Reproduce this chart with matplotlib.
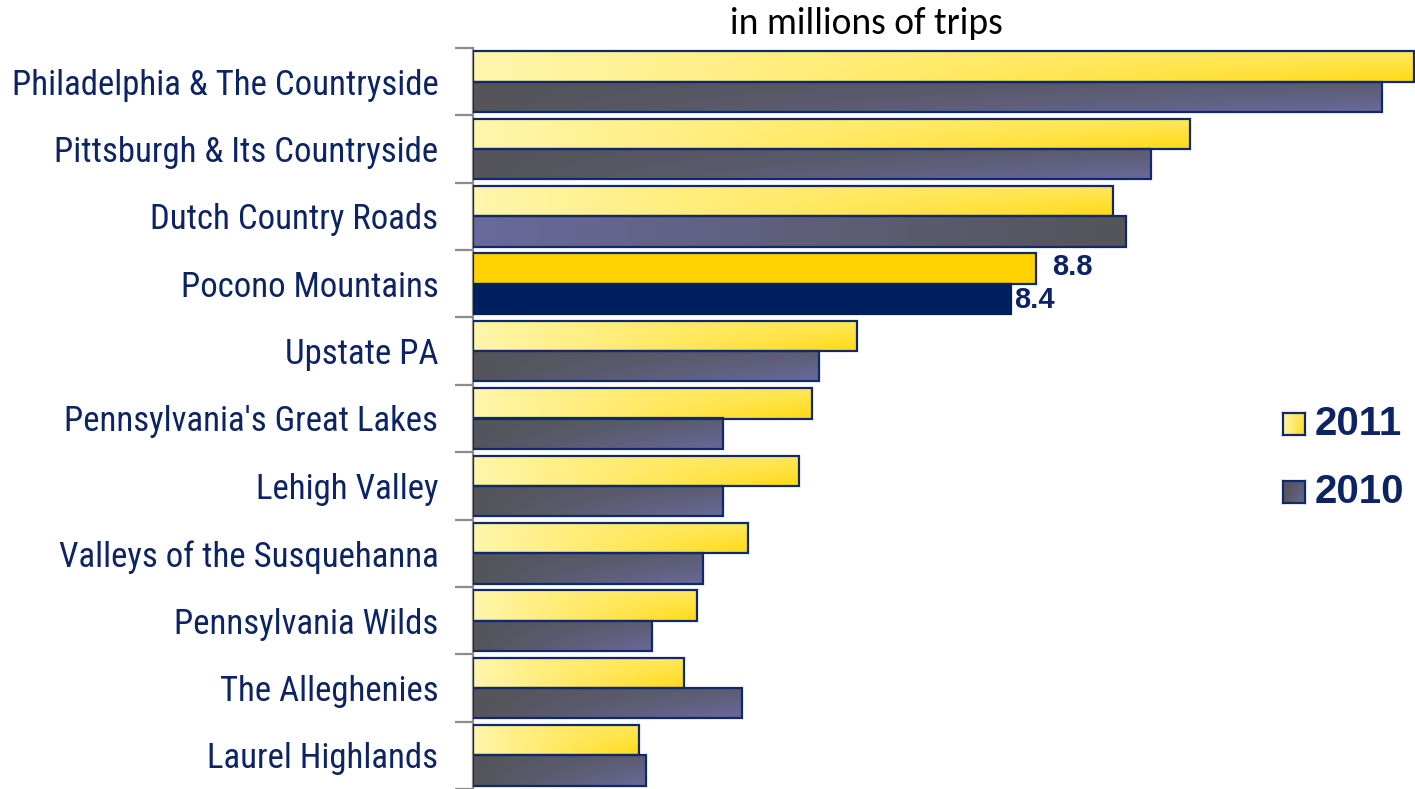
import matplotlib
matplotlib.use('Agg')
import matplotlib.pyplot as plt
import numpy as np
from matplotlib.patches import Rectangle

# ===== data (millions of trips) =====
regions = ['Philadelphia & The Countryside', 'Pittsburgh & Its Countryside',
           'Dutch Country Roads', 'Pocono Mountains', 'Upstate PA',
           "Pennsylvania's Great Lakes", 'Lehigh Valley',
           'Valleys of the Susquehanna', 'Pennsylvania Wilds',
           'The Alleghenies', 'Laurel Highlands']
trips_2011 = [14.7, 11.2, 10.0, 8.8, 6.0, 5.3, 5.1, 4.3, 3.5, 3.3, 2.6]
trips_2010 = [14.2, 10.6, 10.2, 8.4, 5.4, 3.9, 3.9, 3.6, 2.8, 4.2, 2.7]
highlight = 'Pocono Mountains'

NAVY = '#0c2463'
EDGE = '#10296b'
NARROW = ['Roboto Condensed', 'Liberation Sans', 'DejaVu Sans']


def yellow_grad(n=64):
    t = np.linspace(0, 1, n)[None, :, None]
    s = np.linspace(0, 1, 24)[:, None, None]
    left = np.array([255, 246, 172]) / 255
    right = np.array([255, 218, 20]) / 255
    col = left + (right - left) * t
    top = np.array([255, 244, 160]) / 255
    w = (1 - s) * 0.55 * t
    return col * (1 - w) + top * w


def dark_grad(n=64, flip=False):
    t = np.linspace(0, 1, n)[None, :, None]
    if flip:
        t = 1 - t
        s = np.ones((24, 1, 1))
    else:
        s = np.linspace(0, 1, 24)[:, None, None]
    gray = np.array([84, 84, 90]) / 255
    purple = np.array([105, 105, 155]) / 255
    w = t * (0.35 + 0.65 * s)
    return gray * (1 - w) + purple * w


def grad_bar(ax, y, width, h, img):
    rect = Rectangle((0, y - h / 2), width, h, facecolor='none',
                     edgecolor=EDGE, linewidth=1.6, zorder=3)
    ax.add_patch(rect)
    im = ax.imshow(img, extent=(0, width, y + h / 2, y - h / 2),
                   aspect='auto', interpolation='bilinear', zorder=2)
    im.set_clip_path(rect)


fig = plt.figure(figsize=(14.15, 7.89), dpi=100)
ax = fig.add_axes([473 / 1415, 0, 942 / 1415, 1 - 48 / 789])

h = 0.45
for i, (name, v11, v10) in enumerate(zip(regions, trips_2011, trips_2010)):
    y11, y10 = i - h / 2, i + h / 2
    if name == highlight:
        ax.barh(y11, v11, height=h, color='#ffd200', edgecolor=EDGE, linewidth=1.6, zorder=3)
        ax.barh(y10, v10, height=h, color='#001f5f', edgecolor='#001f5f', linewidth=1.6, zorder=3)
        ax.text(v11 + 0.25, y11 - 0.02, f'{v11:.1f}', va='center', ha='left', fontsize=21,
                fontweight='bold', color=NAVY, family='Liberation Sans')
        ax.text(v10 + 0.05, y10 + 0.02, f'{v10:.1f}', va='center', ha='left', fontsize=21,
                fontweight='bold', color=NAVY, family='Liberation Sans')
    else:
        grad_bar(ax, y11, v11, h, yellow_grad())
        grad_bar(ax, y10, v10, h, dark_grad(flip=(name == 'Dutch Country Roads')))

ax.set_xlim(0, 942 / 64)
ax.set_ylim(len(regions) - 0.5, -0.5)
ax.set_yticks(range(len(regions)))
ax.set_yticklabels(regions, fontsize=25, color=NAVY, family=NARROW)
ax.set_yticks(np.arange(-0.5, len(regions), 1), minor=True)
ax.tick_params(axis='y', which='major', length=0, pad=25)
ax.tick_params(axis='y', which='minor', length=13, width=1.6, color='#8c8c8c')
ax.set_xticks([])
for side in ['top', 'right', 'bottom']:
    ax.spines[side].set_visible(False)
ax.spines['left'].set_color('#8c8c8c')
ax.spines['left'].set_linewidth(1.6)

fig.text(866 / 1415, 1 - 24 / 789, 'in millions of trips', ha='center', va='center',
         fontsize=27, color='black', family=['Carlito', 'Lato', 'DejaVu Sans'])

# legend swatches
for lbl, img, yc in [('2011', yellow_grad(), 424), ('2010', dark_grad(), 492)]:
    sw = fig.add_axes([1283 / 1415, 1 - (yc + 11) / 789, 22 / 1415, 22 / 789])
    sw.imshow(img, aspect='auto', extent=(0, 1, 1, 0), interpolation='bilinear')
    sw.set_xticks([])
    sw.set_yticks([])
    for sp in sw.spines.values():
        sp.set_color(EDGE)
        sp.set_linewidth(1.6)
    fig.text(1315 / 1415, 1 - yc / 789, lbl, ha='left', va='center', fontsize=29,
             fontweight='bold', color=NAVY, family='Liberation Sans')

fig.savefig('out.png', dpi=100)
